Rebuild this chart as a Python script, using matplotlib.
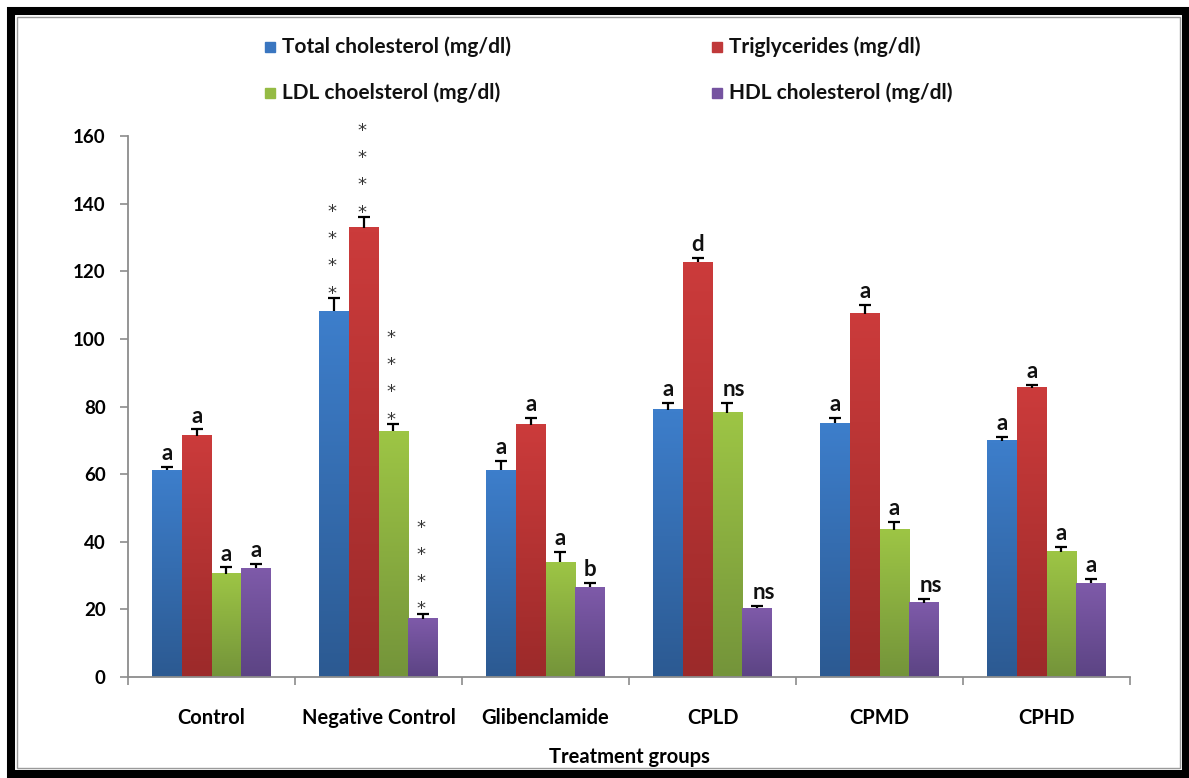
import numpy as np

import matplotlib
matplotlib.use("Agg")
import matplotlib.pyplot as plt
from matplotlib.colors import LinearSegmentedColormap
from matplotlib.patches import Rectangle

plt.rcParams["font.family"] = ["Lato", "DejaVu Sans"]
plt.rcParams["font.weight"] = "bold"

groups = ["Control", "Negative Control", "Glibenclamide", "CPLD", "CPMD", "CPHD"]
series = ["Total cholesterol (mg/dl)", "Triglycerides (mg/dl)",
          "LDL choelsterol (mg/dl)", "HDL cholesterol (mg/dl)"]

total_chol = [61.2, 108.2, 61.2, 79.0, 75.1, 69.8]
total_chol_err = [0.8, 3.8, 2.7, 2.1, 1.5, 1.2]
trig = [71.4, 132.8, 74.6, 122.6, 107.4, 85.5]
trig_err = [1.8, 3.1, 2.0, 1.2, 2.6, 1.0]
ldl = [30.5, 72.7, 34.0, 78.1, 43.5, 37.0]
ldl_err = [1.9, 2.0, 3.0, 3.0, 2.4, 1.5]
hdl = [32.1, 17.3, 26.6, 20.3, 21.9, 27.8]
hdl_err = [1.2, 1.3, 1.2, 0.7, 1.2, 1.2]

tc_sig = ["a", "****", "a", "a", "a", "a"]
tg_sig = ["a", "****", "a", "d", "a", "a"]
ldl_sig = ["a", "****", "a", "ns", "a", "a"]
hdl_sig = ["a", "****", "b", "ns", "ns", "a"]

yticks = [0, 20, 40, 60, 80, 100, 120, 140, 160]

values = [total_chol, trig, ldl, hdl]
errors = [total_chol_err, trig_err, ldl_err, hdl_err]
sigs = [tc_sig, tg_sig, ldl_sig, hdl_sig]
# (top, bottom) of the Excel-like gradient fill
grads = [("#3d7ecb", "#2c5a92"), ("#cb3b3b", "#9c2a2a"),
         ("#9dc545", "#74943a"), ("#7e5aa9", "#5c4484")]
solid = ["#3a76c0", "#c0393a", "#95bb44", "#7553a0"]

fig = plt.figure(figsize=(11.89, 7.78), dpi=100)
ax = fig.add_axes([128 / 1189, 1 - 677 / 778, 1002 / 1189, 541 / 778])

x = np.arange(len(groups))
w = 0.178
for i, (vals, errs, sig) in enumerate(zip(values, errors, sigs)):
    pos = x + (i - 1.5) * w
    bars = ax.bar(pos, vals, width=w, color=solid[i], zorder=2, linewidth=0)
    cmap = LinearSegmentedColormap.from_list("g%d" % i, [grads[i][1], grads[i][0]])
    grad = np.linspace(0, 1, 64).reshape(-1, 1)
    for b in bars:
        ax.imshow(grad, cmap=cmap, aspect="auto", origin="lower", zorder=2.5,
                  extent=[b.get_x(), b.get_x() + b.get_width(), 0, b.get_height()],
                  interpolation="bilinear")
    eb = ax.errorbar(pos, vals, yerr=[np.zeros(len(vals)), errs], fmt="none",
                     ecolor="black", elinewidth=1.6, capsize=4.5, capthick=1.6, zorder=3)
    eb[1][0].set_visible(False)  # only the upper cap, like Excel "plus" bars
    for p, v, e, s in zip(pos, vals, errs, sig):
        top = v + e
        if s.startswith("*"):
            for k in range(len(s)):
                ax.annotate("*", (p, top + 2.2 + k * 8.05), xytext=(-1.5, -5.5),
                            textcoords="offset points", ha="center", va="baseline",
                            fontsize=13, family="DejaVu Sans", fontweight="normal",
                            color="#333333", annotation_clip=False)
        else:
            dx = 5 if s == "ns" else 0
            ax.annotate(s, (p, top), xytext=(dx, 5), textcoords="offset points",
                        ha="center", va="baseline", fontsize=16, color="#111111",
                        annotation_clip=False)

ax.set_xlim(-0.5, len(groups) - 0.5)
ax.set_ylim(0, 160)
ax.set_yticks(yticks)
ax.set_xticks(x)
ax.set_xticklabels(groups)
ax.set_xticks(np.arange(len(groups) + 1) - 0.5, minor=True)
ax.tick_params(axis="x", which="major", length=0, pad=22, labelsize=14.5)
ax.tick_params(axis="x", which="minor", length=6, width=1.2, color="#8c8c8c", direction="out")
ax.tick_params(axis="y", length=6, width=1.2, color="#8c8c8c", pad=10, labelsize=13.5)
for s in ["top", "right"]:
    ax.spines[s].set_visible(False)
for s in ["left", "bottom"]:
    ax.spines[s].set_color("#8c8c8c")
    ax.spines[s].set_linewidth(1.3)
ax.set_xlabel("Treatment groups", fontsize=14.5, fontweight="bold", labelpad=14)

# legend, 2 x 2 as in the original
for i, name in enumerate(series):
    col, row = i % 2, i // 2
    mx = [265, 712][col] / 1189
    my = 1 - [47, 93][row] / 778
    fig.add_artist(Rectangle((mx, my - 5 / 778), 10 / 1189, 10 / 778,
                             transform=fig.transFigure, color=solid[i]))
    fig.text(mx + 17 / 1189, my, name, fontsize=15, fontweight="bold",
             va="center", ha="left", color="#111111")

# thick black picture frame
fig.add_artist(Rectangle((11 / 1189, 4 / 778), 1175 / 1189, 763.5 / 778,
                         transform=fig.transFigure, fill=False,
                         edgecolor="black", linewidth=5.8))
fig.add_artist(Rectangle((17 / 1189, 10 / 778), 1163 / 1189, 751 / 778,
                         transform=fig.transFigure, fill=False,
                         edgecolor="#9a9a9a", linewidth=1.0))

fig.savefig("out.png", dpi=100)
